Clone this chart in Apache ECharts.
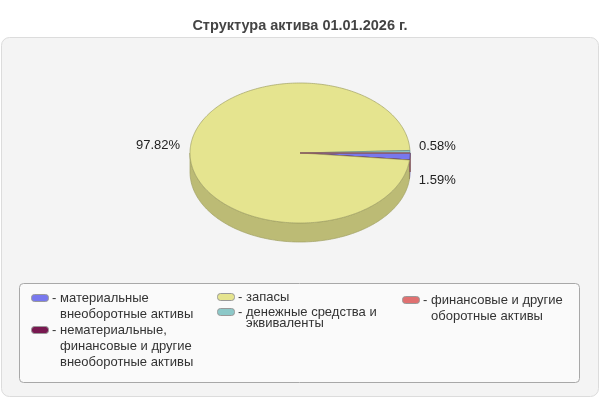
<!DOCTYPE html>
<html>
<head>
<meta charset="utf-8">
<script src="https://cdn.jsdelivr.net/npm/echarts@6/dist/echarts.min.js"></script>
<style>
html, body { margin: 0; padding: 0; background: #fff; }
#main { width: 600px; height: 400px; }
</style>
</head>
<body>
<div id="main"></div>
<script>
const titleText = 'Структура актива 01.01.2026 г.';
const categories = [
    'материальные\nвнеоборотные активы',
    'нематериальные,\nфинансовые и другие\nвнеоборотные активы',
    'запасы',
    'денежные средства и\nэквиваленты',
    'финансовые и другие\nоборотные активы'
];
const values = [1.59, 0.005, 97.82, 0.58, 0.005];
const colors = ['#7878ee', '#781850', '#e5e48f', '#8cc8c8', '#e07070'];

// pie geometry (tilted ellipse + side wall)
const CX = 300, CY = 153, RX = 110, RY = 70, DEPTH = 19;
const FONT = '"Liberation Sans", Arial, sans-serif';

const total = values.reduce((a, b) => a + b, 0);

function darken(hex, k) {
    let n = parseInt(hex.slice(1), 16);
    let r = Math.round(((n >> 16) & 255) * k);
    let g = Math.round(((n >> 8) & 255) * k);
    let b = Math.round((n & 255) * k);
    return 'rgb(' + r + ',' + g + ',' + b + ')';
}

function arc(a0, a1, dy) {
    let pts = [];
    let n = Math.max(2, Math.ceil((a1 - a0) / (Math.PI / 180)) + 1);
    for (let i = 0; i < n; i++) {
        let a = a0 + (a1 - a0) * i / (n - 1);
        pts.push([CX + RX * Math.cos(a), CY + RY * Math.sin(a) + dy]);
    }
    return pts;
}

function sideWall(a0, a1, color) {
    let top = arc(a0, a1, 0);
    let bottom = arc(a0, a1, DEPTH).reverse();
    return {
        type: 'polygon',
        z2: 5,
        shape: { points: top.concat(bottom) },
        style: { fill: darken(color, 0.82), stroke: darken(color, 0.7), lineWidth: 0.7 }
    };
}

function renderSlice(params, api) {
    let i = params.dataIndex;
    let before = 0;
    for (let k = 0; k < i; k++) before += values[k];
    let start = before / total * Math.PI * 2;
    let end = (before + values[i]) / total * Math.PI * 2;
    let color = colors[i];
    let children = [];

    // side wall: front half, plus the rim edge just before the full turn
    let s = Math.max(start, 0), e = Math.min(end, Math.PI);
    if (e > s) children.push(sideWall(s, e, color));
    let tol = Math.PI * 2 - 0.002;
    if (end > tol) children.push(sideWall(Math.max(start, tol), end, color));

    // top face
    children.push({
        type: 'polygon',
        z2: 10,
        shape: { points: [[CX, CY]].concat(arc(start, end, 0)) },
        style: { fill: color, stroke: darken(color, 0.7), lineWidth: 0.7 }
    });

    // percent label
    let pct = values[i] / total * 100;
    if (pct >= 0.1) {
        let mid = (start + end) / 2;
        let cos = Math.cos(mid), sin = Math.sin(mid);
        let x = CX + (RX + 9) * cos;
        let y = CY + RY * sin + (sin > 0 ? DEPTH + 5 : -5);
        children.push({
            type: 'text',
            z2: 20,
            style: {
                text: pct.toFixed(2) + '%',
                x: cos >= 0 ? x : x - 1,
                y: y,
                align: cos >= 0 ? 'left' : 'right',
                verticalAlign: 'middle',
                font: '13px ' + FONT,
                fill: '#222'
            }
        });
    }
    return { type: 'group', children: children };
}

// legend layout: swatch x, centre of first line, line height
const legendSlots = [
    { x: 31, y: 298, lh: 16 },
    { x: 31, y: 330, lh: 16 },
    { x: 217, y: 297, lh: 16 },
    { x: 217, y: 312, lh: 11 },
    { x: 402, y: 300, lh: 16 }
];

let graphics = [
    {
        type: 'rect', z: 0,
        shape: { x: 1.5, y: 37.5, width: 597, height: 359, r: 8 },
        style: { fill: '#f4f4f4', stroke: '#dcdcdc', lineWidth: 1 }
    },
    {
        type: 'rect', z: 1,
        shape: { x: 19.5, y: 283.5, width: 560, height: 99, r: 4 },
        style: { fill: '#fafafa', stroke: '#a8a8a8', lineWidth: 1 }
    }
];
categories.forEach((name, i) => {
    let p = legendSlots[i];
    graphics.push({
        type: 'rect', z: 2,
        shape: { x: p.x + 0.5, y: p.y - 3.5, width: 17, height: 7, r: 3 },
        style: { fill: colors[i], stroke: '#999', lineWidth: 1 }
    });
    graphics.push({
        type: 'text', z: 2,
        style: { text: '-', x: p.x + 21, y: p.y, verticalAlign: 'middle', font: '13px ' + FONT, fill: '#333' }
    });
    graphics.push({
        type: 'text', z: 2,
        style: {
            text: name, x: p.x + 29, y: p.y - p.lh / 2, verticalAlign: 'top',
            lineHeight: p.lh, font: '13px ' + FONT, fill: '#333'
        }
    });
});

let myChart = echarts.init(document.getElementById('main'));
let option = {
    animation: false,
    backgroundColor: '#fff',
    title: {
        text: titleText,
        left: 'center',
        top: 13,
        textStyle: { fontSize: 14.5, fontWeight: 'bold', color: '#444', fontFamily: FONT }
    },
    graphic: graphics,
    series: [
        {
            type: 'custom',
            coordinateSystem: 'none',
            z: 5,
            renderItem: renderSlice,
            data: values.map((v, i) => ({ name: categories[i], value: v }))
        }
    ]
};
myChart.setOption(option);
</script>
</body>
</html>
